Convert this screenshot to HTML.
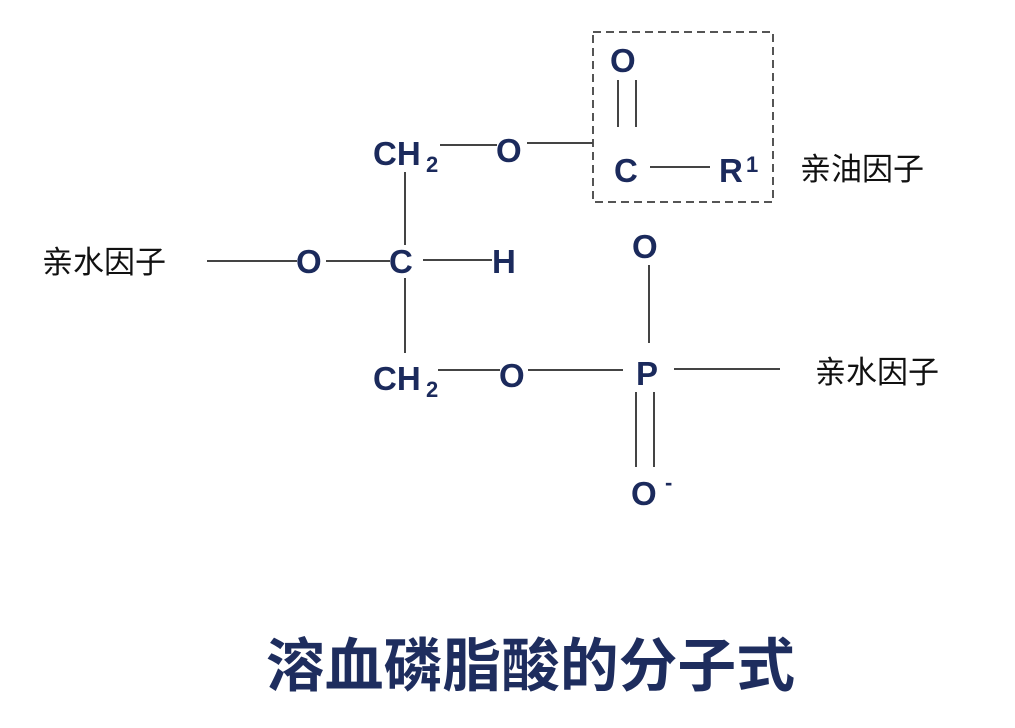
<!DOCTYPE html>
<html><head><meta charset="utf-8"><style>
html,body{margin:0;padding:0;background:#fff;}
svg{display:block;}
.a{font-family:"Liberation Sans",sans-serif;font-weight:bold;fill:#1b2a5c;font-size:33px;}
.s{font-family:"Liberation Sans",sans-serif;font-weight:bold;fill:#1b2a5c;font-size:22px;}
.c{font-family:"Liberation Sans","Noto Sans CJK SC",sans-serif;fill:#111;font-size:31px;}
.t{font-family:"Liberation Sans","Noto Sans CJK SC",sans-serif;font-weight:bold;fill:#1e2d5e;font-size:58px;}
line{stroke:#444;stroke-width:2;}
</style></head><body>
<svg width="1015" height="728" viewBox="0 0 1015 728">
<rect width="1015" height="728" fill="#fff"/>
<rect x="593" y="32" width="180" height="170" fill="none" stroke="#555" stroke-width="2" stroke-dasharray="8,5"/>
<text class="a" x="373" y="165">CH</text><text class="s" x="426" y="172">2</text>
<line x1="440" y1="145" x2="497" y2="145"/>
<text class="a" x="496" y="162">O</text>
<line x1="527" y1="143" x2="593" y2="143"/>
<text class="a" x="610" y="72">O</text>
<line x1="618" y1="80" x2="618" y2="127"/>
<line x1="636" y1="80" x2="636" y2="127"/>
<text class="a" x="614" y="182">C</text>
<line x1="650" y1="167" x2="710" y2="167"/>
<text class="a" x="719" y="182">R</text><text class="s" x="746" y="172">1</text>
<text class="c" x="800" y="180">亲油因子</text>
<text class="c" x="42" y="273">亲水因子</text>
<line x1="207" y1="261" x2="297" y2="261"/>
<text class="a" x="296" y="273">O</text>
<line x1="326" y1="261" x2="390" y2="261"/>
<text class="a" x="389" y="273">C</text>
<line x1="423" y1="260" x2="492" y2="260"/>
<text class="a" x="492" y="273">H</text>
<line x1="405" y1="172" x2="405" y2="245"/>
<line x1="405" y1="278" x2="405" y2="353"/>
<text class="a" x="373" y="390">CH</text><text class="s" x="426" y="397">2</text>
<line x1="438" y1="370" x2="500" y2="370"/>
<text class="a" x="499" y="387">O</text>
<line x1="528" y1="370" x2="623" y2="370"/>
<text class="a" x="636" y="385">P</text>
<line x1="674" y1="369" x2="780" y2="369"/>
<text class="c" x="815" y="383">亲水因子</text>
<text class="a" x="632" y="258">O</text>
<line x1="649" y1="265" x2="649" y2="343"/>
<line x1="636" y1="392" x2="636" y2="467"/>
<line x1="654" y1="392" x2="654" y2="467"/>
<text class="a" x="631" y="505">O</text><text class="s" x="665" y="490">-</text>
<text class="t" x="266" y="686" textLength="529" lengthAdjust="spacingAndGlyphs">溶血磷脂酸的分子式</text>
</svg>
</body></html>
